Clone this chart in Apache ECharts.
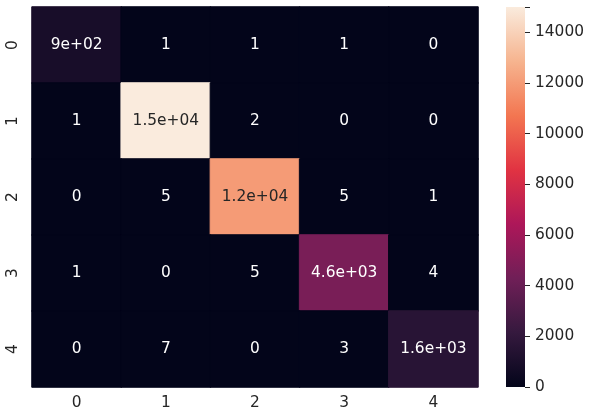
<!DOCTYPE html>
<html>
<head>
<meta charset="utf-8">
<script src="https://cdn.jsdelivr.net/npm/echarts@6/dist/echarts.min.js"></script>
<style>
html,body{margin:0;padding:0;background:#fff;}
#c{width:590px;height:419px;}
</style>
</head>
<body>
<div id="c"></div>
<script>
// Categories
const xCats = ['0','1','2','3','4'];
const yCats = ['0','1','2','3','4'];
// Confusion-matrix rows (top to bottom)
const row0 = [900, 1, 1, 1, 0];
const row1 = [1, 15000, 2, 0, 0];
const row2 = [0, 5, 12000, 5, 1];
const row3 = [1, 0, 5, 4600, 4];
const row4 = [0, 7, 0, 3, 1600];
const rows = [row0, row1, row2, row3, row4];
// Colorbar
const vMin = 0;
const vMax = 15000;
const cbTicks = [0, 2000, 4000, 6000, 8000, 10000, 12000, 14000];
// rocket colormap samples at i/7
const rocket = ['#03051a','#35193e','#701f57','#ad1759','#e13342','#f37651','#f6b48f','#faebdd'];

function hex2rgb(h){ return [1,3,5].map(i => parseInt(h.substr(i,2),16)); }
function cmap(t){
  t = Math.max(0, Math.min(1, t));
  const n = rocket.length - 1;
  const i = Math.min(n - 1, Math.floor(t * n));
  const f = t * n - i;
  const a = hex2rgb(rocket[i]), b = hex2rgb(rocket[i+1]);
  const c = a.map((v, k) => Math.round(v + (b[k] - v) * f));
  return 'rgb(' + c.join(',') + ')';
}

function fmtG2(v){
  if (v === 0) return '0';
  const e = Math.floor(Math.log10(Math.abs(v)));
  if (e >= 2 || e < -4) {
    let m = (v / Math.pow(10, e)).toFixed(1);
    m = m.replace(/\.0$/, '');
    const es = (e >= 0 ? '+' : '-') + String(Math.abs(e)).padStart(2, '0');
    return m + 'e' + es;
  }
  return String(Number(v.toPrecision(2)));
}

const FONT = 'DejaVu Sans';
const FS = 15.4;
const TXT = '#262626';

const data = [];
rows.forEach((r, yi) => {
  r.forEach((v, xi) => {
    const col = cmap((v - vMin) / (vMax - vMin));
    data.push({
      value: [xi, yi, v],
      itemStyle: { color: col, borderColor: col, borderWidth: 1 },
      label: { color: (v / vMax > 0.55) ? TXT : '#ffffff' }
    });
  });
});

const chart = echarts.init(document.getElementById('c'), null, {renderer: 'canvas'});
chart.setOption({
  animation: false,
  backgroundColor: '#ffffff',
  textStyle: { fontFamily: FONT },
  grid: [
    { left: 32, top: 7, width: 446, height: 380 },
    { left: 506, top: 7, width: 19, height: 380 }
  ],
  xAxis: [
    {
      type: 'category', gridIndex: 0, data: xCats, position: 'bottom',
      axisLine: { show: false }, axisTick: { show: false }, splitLine: { show: false },
      axisLabel: { color: TXT, fontSize: FS, fontFamily: FONT, margin: 8 }
    },
    {
      type: 'category', gridIndex: 1, data: ['cb'],
      show: false
    }
  ],
  yAxis: [
    {
      type: 'category', gridIndex: 0, data: yCats, inverse: true,
      axisLine: { show: false }, axisTick: { show: false }, splitLine: { show: false },
      axisLabel: { color: TXT, fontSize: FS, fontFamily: FONT, rotate: 90, margin: 12 }
    },
    {
      type: 'value', gridIndex: 1, min: vMin, max: vMax, interval: 2000, position: 'right',
      axisLine: { show: false },
      axisTick: { show: true, length: 5, lineStyle: { color: TXT, width: 1 } },
      splitLine: { show: false },
      axisLabel: { color: TXT, fontSize: FS, fontFamily: FONT, margin: 10,
        formatter: v => (cbTicks.indexOf(v) >= 0 ? String(v) : '') }
    }
  ],
  series: [
    {
      type: 'heatmap', xAxisIndex: 0, yAxisIndex: 0, data: data,
      label: { show: true, fontSize: FS, fontFamily: FONT,
        formatter: p => fmtG2(p.value[2]) },
      emphasis: { disabled: true }
    },
    {
      type: 'bar', xAxisIndex: 1, yAxisIndex: 1, data: [vMax], barWidth: '100%',
      itemStyle: {
        color: new echarts.graphic.LinearGradient(0, 0, 0, 1,
          rocket.slice().reverse().map((c, i) => ({ offset: i / (rocket.length - 1), color: c })))
      },
      silent: true
    }
  ]
});
</script>
</body>
</html>
